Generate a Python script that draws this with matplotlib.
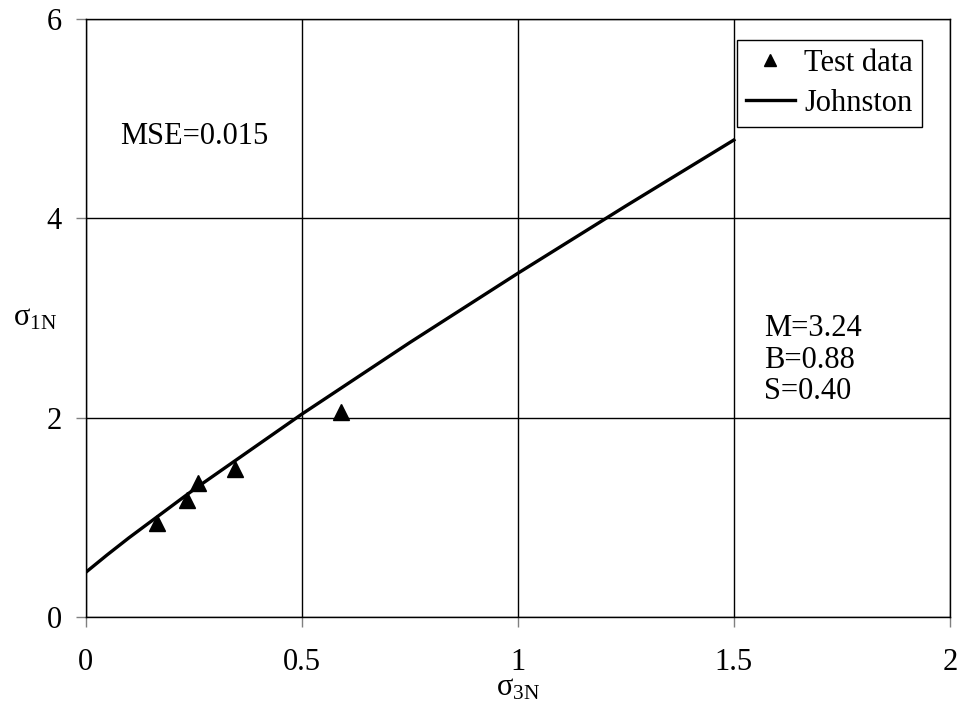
import matplotlib
matplotlib.use("Agg")
import matplotlib.pyplot as plt
import numpy as np

plt.rcParams['font.family'] = ['Liberation Serif', 'DejaVu Serif']
plt.rcParams['mathtext.fontset'] = 'stix'

# datos de ensayo
sigma3_test = [0.166, 0.234, 0.261, 0.346, 0.590]
sigma1_test = [0.945, 1.173, 1.340, 1.484, 2.058]

# curva Johnston
sigma3_johnston = [0.0, 0.05, 0.1, 0.25, 0.5, 0.75, 1.0, 1.25, 1.5]
sigma1_johnston = [0.446, 0.623, 0.793, 1.277, 2.034, 2.753, 3.448, 4.124, 4.786]

xticks = [0, 0.5, 1, 1.5, 2]
xtick_labels = ["0", "0.5", "1", "1.5", "2"]
yticks = [0, 2, 4, 6]
ytick_labels = ["0", "2", "4", "6"]

fig = plt.figure(figsize=(9.62, 7.09), dpi=100)
ax = fig.add_axes([85.5 / 962, 1 - 617 / 709, (950 - 85.5) / 962, (617 - 19) / 709])

ax.plot(sigma3_test, sigma1_test, linestyle='none', marker='^', color='black',
        markersize=11, label='Test data', zorder=3)
ax.plot(sigma3_johnston, sigma1_johnston, color='black', linewidth=2.4,
        label='Johnston', zorder=3)

ax.set_xlim(0, 2)
ax.set_ylim(0, 6)
ax.set_xticks(xticks)
ax.set_xticklabels(xtick_labels)
ax.set_yticks(yticks)
ax.set_yticklabels(ytick_labels)
ax.tick_params(axis='both', labelsize=22, direction='out', length=7, width=1,
               color='#808080')
ax.tick_params(axis='x', pad=15)
ax.tick_params(axis='y', pad=10)
ax.grid(True, color='black', linewidth=1.0)
for sp in ax.spines.values():
    sp.set_color('black')
    sp.set_linewidth(1.0)

ax.set_xlabel(r'$\mathregular{σ_{3N}}$', fontsize=22, labelpad=-2)
ax.set_ylabel(r'$\mathregular{σ_{1N}}$', fontsize=22, rotation=0, va='center',
              ha='center')
ax.yaxis.set_label_coords(-0.058, 0.5)

ax.text(0.08, 4.82, 'MSE=0.015', fontsize=22, va='center', ha='left')
ax.text(1.57, 2.12, 'M=3.24\nB=0.88\nS=0.40', fontsize=22, va='bottom', ha='left',
        linespacing=1.1)

leg = ax.legend(loc='upper right', bbox_to_anchor=(0.9675, 0.965), fontsize=22,
                frameon=True, fancybox=False, edgecolor='black', framealpha=1,
                handlelength=1.6, handletextpad=0.3, borderpad=0.3,
                labelspacing=0.35, borderaxespad=0, markerscale=0.75)
leg.get_frame().set_linewidth(1.0)

fig.savefig('out.png', dpi=100)
